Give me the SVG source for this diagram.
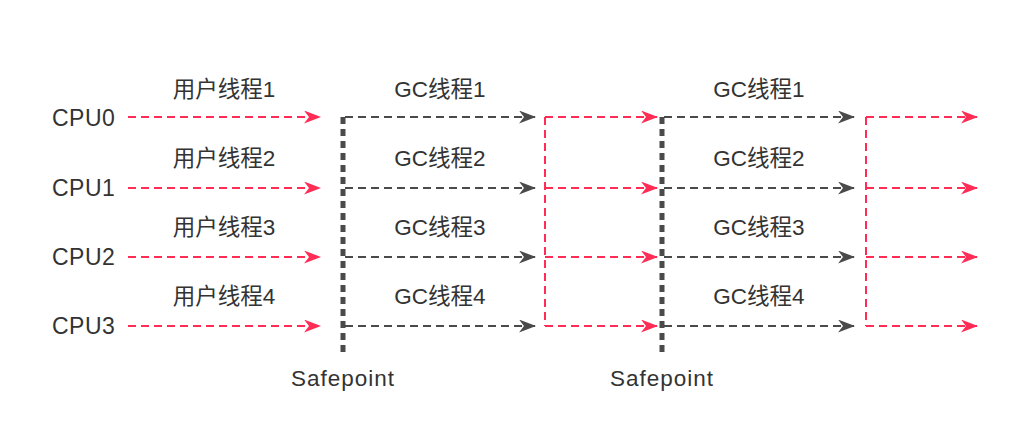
<svg xmlns="http://www.w3.org/2000/svg" width="1027" height="428" viewBox="0 0 1027 428">
<style>
text{font-family:"Liberation Sans","Noto Sans CJK SC",sans-serif;font-size:22.5px;fill:#333}
.lbl{text-anchor:middle}
.cpu{font-size:23px;letter-spacing:0.5px}
.spt{font-size:22.5px;letter-spacing:1px}
.red{stroke:#ff2c55;stroke-width:2;stroke-dasharray:8 5;fill:none}
.gray{stroke:#4a4a4a;stroke-width:2;stroke-dasharray:8 5;fill:none}
.sp{stroke:#4a4a4a;stroke-width:5;stroke-dasharray:7 5;fill:none}
</style>
<defs>
<marker id="ar" viewBox="0 0 17 13" refX="16" refY="6.5" markerWidth="17" markerHeight="13" markerUnits="userSpaceOnUse" orient="auto">
<path d="M0,0 L17,6.5 L0,13 L5,6.5 Z" fill="#ff2c55"/>
</marker>
<marker id="ag" viewBox="0 0 17 13" refX="16" refY="6.5" markerWidth="17" markerHeight="13" markerUnits="userSpaceOnUse" orient="auto">
<path d="M0,0 L17,6.5 L0,13 L5,6.5 Z" fill="#4a4a4a"/>
</marker>
</defs>
<rect width="1027" height="428" fill="#fff"/>
<g id="cpu-labels">
<text class="cpu" x="52" y="126">CPU0</text>
<text class="cpu" x="52" y="196">CPU1</text>
<text class="cpu" x="52" y="265">CPU2</text>
<text class="cpu" x="52" y="334">CPU3</text>
</g>
<g id="labels">
<text class="lbl" x="224" y="97">用户线程1</text>
<text class="lbl" x="224" y="166">用户线程2</text>
<text class="lbl" x="224" y="235">用户线程3</text>
<text class="lbl" x="224" y="304">用户线程4</text>
<text class="lbl" x="440" y="97">GC线程1</text>
<text class="lbl" x="440" y="166">GC线程2</text>
<text class="lbl" x="440" y="235">GC线程3</text>
<text class="lbl" x="440" y="304">GC线程4</text>
<text class="lbl" x="759" y="97">GC线程1</text>
<text class="lbl" x="759" y="166">GC线程2</text>
<text class="lbl" x="759" y="235">GC线程3</text>
<text class="lbl" x="759" y="304">GC线程4</text>
</g>
<g id="safepoint1">
<path class="sp" d="M343,117 V352"/>
<text class="lbl spt" x="343" y="386">Safepoint</text>
</g>
<g id="safepoint2">
<path class="sp" d="M662,117 V352"/>
<text class="lbl spt" x="662" y="386">Safepoint</text>
</g>
<g id="connectors">
<path class="red" marker-end="url(#ar)" d="M128,117 H320"/>
<path class="red" marker-end="url(#ar)" d="M128,188 H320"/>
<path class="red" marker-end="url(#ar)" d="M128,257 H320"/>
<path class="red" marker-end="url(#ar)" d="M128,326 H320"/>
<path class="gray" marker-end="url(#ag)" d="M345,117 H535"/>
<path class="gray" marker-end="url(#ag)" d="M345,188 H535"/>
<path class="gray" marker-end="url(#ag)" d="M345,257 H535"/>
<path class="gray" marker-end="url(#ag)" d="M345,326 H535"/>
<path class="red" d="M545,117 V326"/>
<path class="red" marker-end="url(#ar)" d="M545,117 H657"/>
<path class="red" marker-end="url(#ar)" d="M545,188 H657"/>
<path class="red" marker-end="url(#ar)" d="M545,257 H657"/>
<path class="red" marker-end="url(#ar)" d="M545,326 H657"/>
<path class="gray" marker-end="url(#ag)" d="M664,117 H854"/>
<path class="gray" marker-end="url(#ag)" d="M664,188 H854"/>
<path class="gray" marker-end="url(#ag)" d="M664,257 H854"/>
<path class="gray" marker-end="url(#ag)" d="M664,326 H854"/>
<path class="red" d="M866,117 V326"/>
<path class="red" marker-end="url(#ar)" d="M866,117 H977"/>
<path class="red" marker-end="url(#ar)" d="M866,188 H977"/>
<path class="red" marker-end="url(#ar)" d="M866,257 H977"/>
<path class="red" marker-end="url(#ar)" d="M866,326 H977"/>
</g>
</svg>
